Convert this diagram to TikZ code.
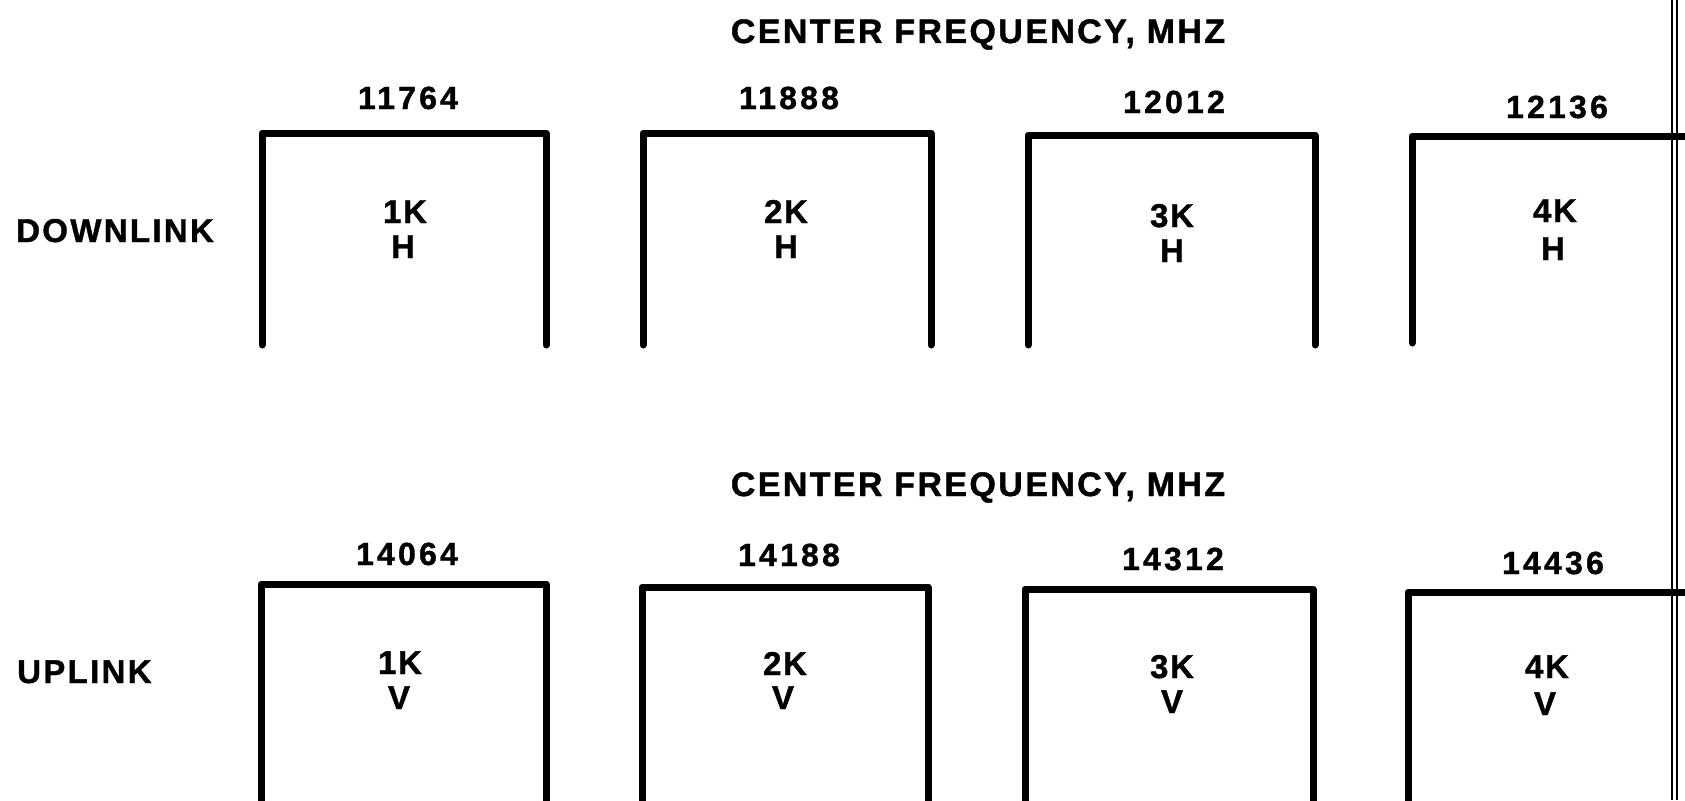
\documentclass[tikz,border=0pt]{standalone}
\usepackage{fontspec}
\setmainfont{Liberation Sans}
\newfontfamily\lblfont{Liberation Sans}[LetterSpace=5,FakeBold=1.2]
\newfontfamily\sidefont{Liberation Sans}[LetterSpace=7,FakeBold=1.2]
\newfontfamily\numfont{Liberation Sans}[LetterSpace=10,FakeBold=1.2]
\newfontfamily\ttlfont{Liberation Sans}[LetterSpace=7,FakeBold=1.2]
\begin{document}
\begin{tikzpicture}[x=1pt,y=-1pt,
  chan/.style={line width=7pt, line cap=round, line join=round},
  pageedge/.style={line width=1.3pt},
  ttl/.style={anchor=base, inner sep=0pt, font=\ttlfont\bfseries\fontsize{34}{34}\selectfont},
  freq/.style={anchor=base, inner sep=0pt, font=\numfont\bfseries\fontsize{32}{32}\selectfont},
  lab/.style={anchor=base, inner sep=0pt, font=\lblfont\bfseries\fontsize{33}{33}\selectfont},
  side/.style={anchor=base west, inner sep=0pt, font=\sidefont\bfseries\fontsize{33}{33}\selectfont}]
\useasboundingbox (0,0) rectangle (1685,800);
% page edge
\draw[pageedge] (1672,0) -- (1672,800);
\draw[pageedge] (1677,0) -- (1677,800);
% downlink channels
\draw[chan] (262,345) |- (546,133) -- (546,345);
\draw[chan] (643,345) |- (931,133) -- (931,345);
\draw[chan] (1028,345) |- (1315,135) -- (1315,345);
\draw[chan] (1412,343) |- (1695,136);
% uplink channels
\draw[chan] (261,810) |- (546,584) -- (546,810);
\draw[chan] (642,810) |- (928,587) -- (928,810);
\draw[chan] (1025,810) |- (1313,589) -- (1313,810);
\draw[chan] (1408,810) |- (1695,592);
% titles
\node[ttl] (t1) at (978,43) {CENTER FREQUENCY, MHZ};
\node[ttl] (t2) at (978,496) {CENTER FREQUENCY, MHZ};
\node[side] (dl) at (16,242) {DOWNLINK};
\node[side] (ul) at (17,683) {UPLINK};
% downlink frequencies
\node[freq] (f1) at (408,109) {11764};
\node[freq] (f2) at (789,109) {11888};
\node[freq] (f3) at (1174,113) {12012};
\node[freq] (f4) at (1557,118) {12136};
% uplink frequencies
\node[freq] (g1) at (407,565) {14064};
\node[freq] (g2) at (789,566) {14188};
\node[freq] (g3) at (1173,570) {14312};
\node[freq] (g4) at (1553,574) {14436};
% downlink labels
\node[lab] (d1a) at (405,223) {1K};
\node[lab] (d1b) at (403,258) {H};
\node[lab] (d2a) at (786,223) {2K};
\node[lab] (d2b) at (786,258) {H};
\node[lab] (d3a) at (1172,227) {3K};
\node[lab] (d3b) at (1172,262) {H};
\node[lab] (d4a) at (1555,222) {4K};
\node[lab] (d4b) at (1553,260) {H};
% uplink labels
\node[lab] (u1a) at (400,674) {1K};
\node[lab] (u1b) at (399,709) {V};
\node[lab] (u2a) at (785,675) {2K};
\node[lab] (u2b) at (783,709) {V};
\node[lab] (u3a) at (1172,678) {3K};
\node[lab] (u3b) at (1172,713) {V};
\node[lab] (u4a) at (1547,678) {4K};
\node[lab] (u4b) at (1545,715) {V};
\end{tikzpicture}
\end{document}
